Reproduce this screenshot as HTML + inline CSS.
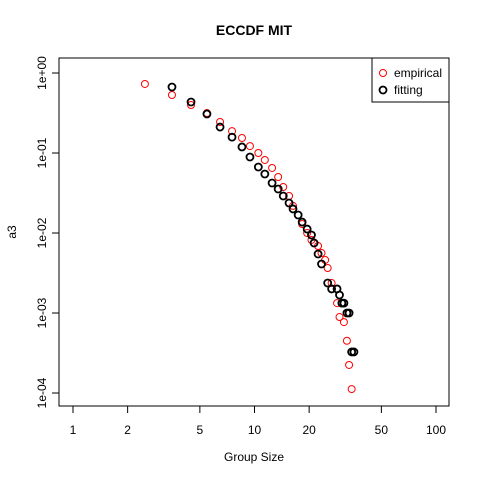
<!DOCTYPE html>
<html><head><meta charset="utf-8"><style>body{margin:0;background:#fff}svg{display:block;font-family:"Liberation Sans",sans-serif}</style></head>
<body>
<svg id="chart" width="480" height="480" viewBox="0 0 480 480">
<rect width="480" height="480" fill="#fff"/>
<text x="254" y="35" text-anchor="middle" font-size="14" font-weight="bold">ECCDF MIT</text>
<rect x="59" y="58" width="390" height="348" fill="none" stroke="#000"/>
<text x="254" y="461" text-anchor="middle" font-size="12">Group Size</text>
<text transform="translate(16,232) rotate(-90)" text-anchor="middle" font-size="12">a3</text>
<g id="axes"></g>
<g id="marks"></g>
<g>
<rect x="372" y="58" width="77" height="44" fill="#fff" stroke="#000"/>
<circle cx="383" cy="73" r="3.5" fill="none" stroke="#ff0000"/>
<text x="394" y="77" font-size="12">empirical</text>
<circle cx="383" cy="90" r="3.5" fill="none" stroke="#000" stroke-width="1.8"/>
<text x="394" y="94" font-size="12">fitting</text>
</g>
</svg>
<script>
const xTicks=[1,2,5,10,20,50,100];
const xTickLabels=["1","2","5","10","20","50","100"];
const yTicks=[1,0.1,0.01,0.001,0.0001];
const yTickLabels=["1e+00","1e-01","1e-02","1e-03","1e-04"];
const empX=[2.49,3.51,4.47,5.47,6.46,7.52,8.53,9.44,10.5,11.4,12.5,13.5,14.4,15.5,16.3,18.3,19.5,20.6,22.4,23.4,24.5,25.3,26.6,28.5,29.4,31.1,32.3,33.2,34.3];
const empY=[0.729,0.531,0.398,0.316,0.244,0.188,0.154,0.122,0.1,0.0818,0.065,0.0501,0.0376,0.029,0.0218,0.01296,0.01,0.00818,0.00688,0.00562,0.0046,0.00365,0.00237,0.00133,0.00089,0.00077,0.00045,0.000224,0.000112];
const fitX=[3.51,4.47,5.47,6.46,7.52,8.53,9.44,10.5,11.4,12.5,13.5,14.4,15.5,16.3,17.4,18.3,19.5,20.6,21.3,22.4,23.4,25.3,26.6,28.5,29.4,30.3,31.1,32.3,33.2,34.3,35.3];
const fitY=[0.668,0.434,0.307,0.211,0.158,0.119,0.0891,0.0668,0.0546,0.0422,0.0355,0.029,0.0237,0.02,0.0168,0.0137,0.0112,0.00944,0.0075,0.00546,0.0041,0.00237,0.002,0.002,0.00168,0.00133,0.00133,0.001,0.001,0.000326,0.000326];
const NS="http://www.w3.org/2000/svg";
function sx(v){return 73+181.5*Math.log10(v);}
function sy(v){return 73-80*Math.log10(v);}
function mk(t,a,p){const e=document.createElementNS(NS,t);for(const k in a)e.setAttribute(k,a[k]);p.appendChild(e);return e;}
const axes=document.getElementById('axes');
xTicks.forEach((v,i)=>{
 const l=mk('line',{x1:sx(v),x2:sx(v),y1:406,y2:413,stroke:'#000'},axes);
 
 
 const t=mk('text',{x:sx(v),y:434,'text-anchor':'middle','font-size':'12'},axes);
 t.textContent=xTickLabels[i];
 
 
});
yTicks.forEach((v,i)=>{
 const l=mk('line',{x1:52,x2:59,y1:sy(v),y2:sy(v),stroke:'#000'},axes);
 
 
 const t=mk('text',{transform:'translate(46,'+sy(v)+') rotate(-90)','text-anchor':'middle','font-size':'12'},axes);
 t.textContent=yTickLabels[i];
 
 
});
const marks=document.getElementById('marks');
empX.forEach((x,i)=>{
 const c=mk('circle',{cx:sx(x),cy:sy(empY[i]),r:3.5,fill:'none',stroke:'#ff0000'},marks);
 
 
});
fitX.forEach((x,i)=>{
 const c=mk('circle',{cx:sx(x),cy:sy(fitY[i]),r:3.5,fill:'none',stroke:'#000','stroke-width':1.8},marks);
 
 
});
</script>
</body></html>
